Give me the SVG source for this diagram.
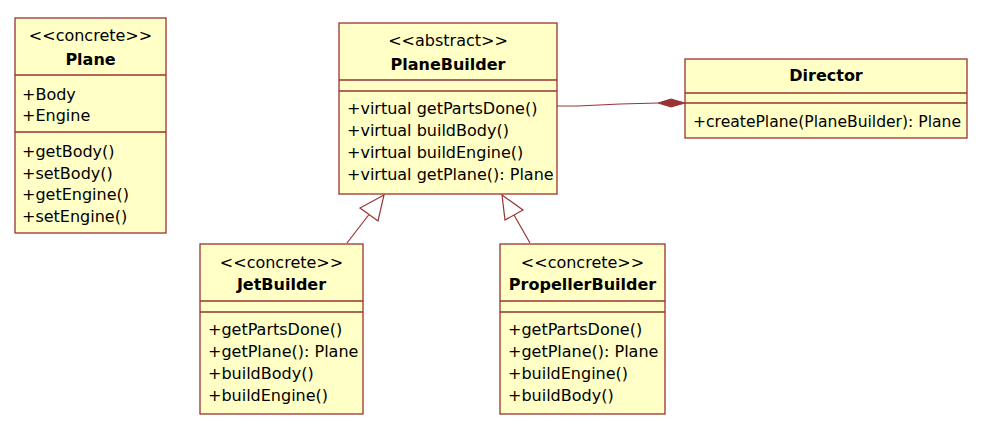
<svg xmlns="http://www.w3.org/2000/svg" width="985" height="437" viewBox="0 0 985 437">
<style>
.box{fill:#FFFFC6;stroke:#993333;stroke-width:1.3}
.div{stroke:#993333;stroke-width:1.3}
text{font-family:"DejaVu Sans","Liberation Sans",sans-serif;font-size:16px;fill:#000}
.c{text-anchor:middle}
.b{font-weight:bold}
.edge{fill:none;stroke:#993333;stroke-width:1.2}
.tri{fill:#fff;stroke:#993333;stroke-width:1.2}
.dia{fill:#993333;stroke:#993333;stroke-width:1}
</style>
<rect width="985" height="437" fill="#fff"/>
<g id="connectors">
<polyline class="edge" points="557,106 578,106 620,104 658,103"/>
<polygon class="dia" points="658,103 671,99 685,103 671,107"/>
<line class="edge" x1="347" y1="243" x2="369" y2="214.5"/>
<polygon class="tri" points="384,195 360,208 378,221"/>
<line class="edge" x1="530" y1="243" x2="514" y2="215"/>
<polygon class="tri" points="502,195 523,210 505,220"/>
</g>
<g id="Plane">
<rect class="box" x="15" y="18" width="151" height="215"/>
<line class="div" x1="15" y1="75" x2="166" y2="75"/>
<line class="div" x1="15" y1="132" x2="166" y2="132"/>
<text class="c" x="90.5" y="41">&lt;&lt;concrete&gt;&gt;</text>
<text class="c b" x="90.5" y="65">Plane</text>
<text x="22" y="100">+Body</text>
<text x="22" y="121">+Engine</text>
<text x="22" y="157">+getBody()</text>
<text x="22" y="179">+setBody()</text>
<text x="22" y="200">+getEngine()</text>
<text x="22" y="222">+setEngine()</text>
</g>
<g id="PlaneBuilder">
<rect class="box" x="339" y="23" width="218" height="171"/>
<line class="div" x1="339" y1="80" x2="557" y2="80"/>
<line class="div" x1="339" y1="91" x2="557" y2="91"/>
<text class="c" x="448" y="46">&lt;&lt;abstract&gt;&gt;</text>
<text class="c b" x="448" y="70">PlaneBuilder</text>
<text x="347" y="114">+virtual getPartsDone()</text>
<text x="347" y="136">+virtual buildBody()</text>
<text x="347" y="158">+virtual buildEngine()</text>
<text x="347" y="180">+virtual getPlane(): Plane</text>
</g>
<g id="Director">
<rect class="box" x="685" y="59" width="282" height="79"/>
<line class="div" x1="685" y1="93" x2="967" y2="93"/>
<line class="div" x1="685" y1="103" x2="967" y2="103"/>
<text class="c b" x="826" y="81">Director</text>
<text x="693" y="127" textLength="268" lengthAdjust="spacingAndGlyphs">+createPlane(PlaneBuilder): Plane</text>
</g>
<g id="JetBuilder">
<rect class="box" x="200" y="244" width="163" height="170"/>
<line class="div" x1="200" y1="301" x2="363" y2="301"/>
<line class="div" x1="200" y1="312" x2="363" y2="312"/>
<text class="c" x="281.5" y="268">&lt;&lt;concrete&gt;&gt;</text>
<text class="c b" x="281.5" y="290">JetBuilder</text>
<text x="208" y="335">+getPartsDone()</text>
<text x="208" y="357">+getPlane(): Plane</text>
<text x="208" y="379">+buildBody()</text>
<text x="208" y="401">+buildEngine()</text>
</g>
<g id="PropellerBuilder">
<rect class="box" x="500" y="244" width="165" height="170"/>
<line class="div" x1="500" y1="301" x2="665" y2="301"/>
<line class="div" x1="500" y1="312" x2="665" y2="312"/>
<text class="c" x="582.5" y="268">&lt;&lt;concrete&gt;&gt;</text>
<text class="c b" x="582.5" y="290">PropellerBuilder</text>
<text x="508" y="335">+getPartsDone()</text>
<text x="508" y="357">+getPlane(): Plane</text>
<text x="508" y="379">+buildEngine()</text>
<text x="508" y="401">+buildBody()</text>
</g>
</svg>
